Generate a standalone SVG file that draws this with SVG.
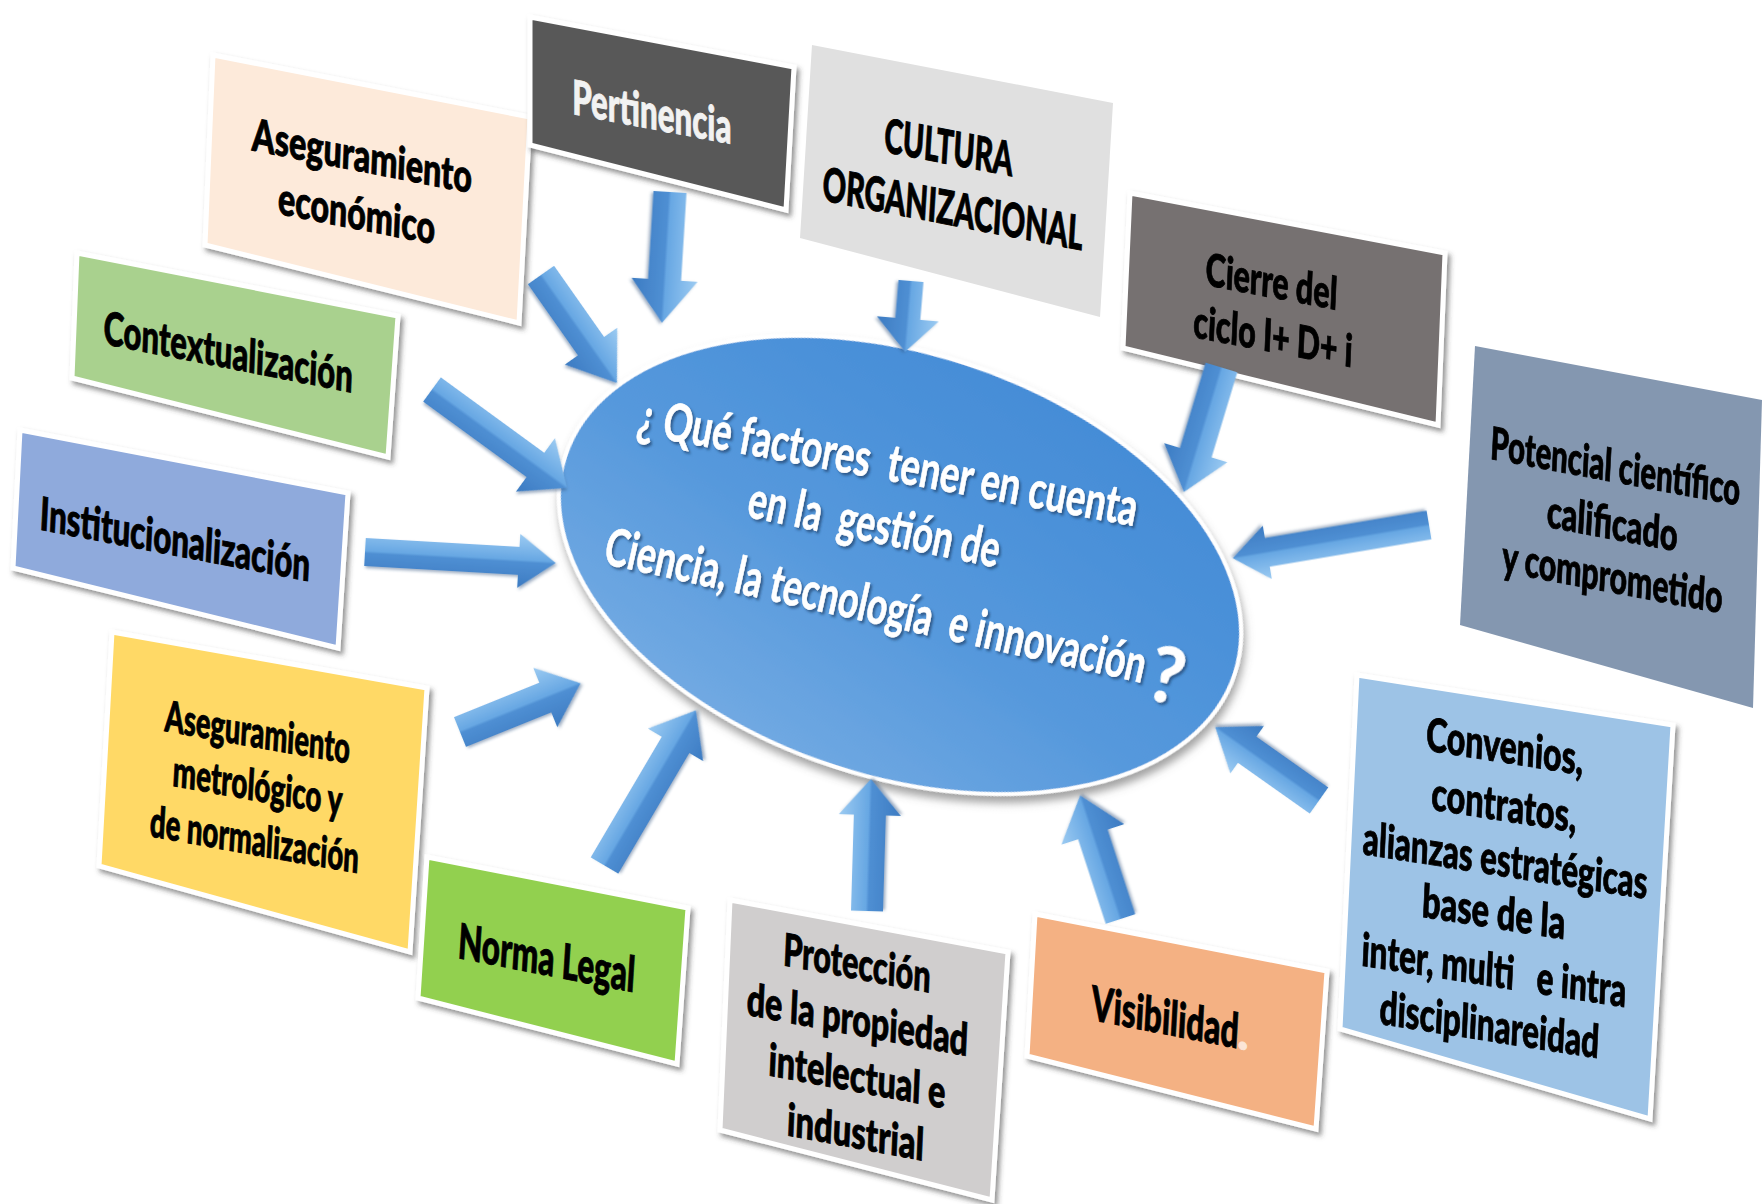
<svg xmlns="http://www.w3.org/2000/svg" width="1763" height="1204" viewBox="0 0 1763 1204">
<defs>
<style>
.t{font-family:Lato,"Open Sans","Liberation Sans",sans-serif;font-weight:900;fill:#000;stroke:#000;stroke-width:0.9px;text-anchor:middle}
.w{fill:#F2F2F2;stroke:#F2F2F2}
.et{font-family:Lato,"Open Sans","Liberation Sans",sans-serif;font-weight:700;fill:#FFFFFF;stroke:#FFFFFF;stroke-width:0.6px;text-anchor:middle;font-size:52px}
.box{stroke:#FFFFFF;stroke-width:5;stroke-linejoin:miter;filter:url(#sh)}
.flat{stroke:none}
.arr{fill:url(#ag);filter:url(#ash)}
</style>
<filter id="sh" x="-10%" y="-10%" width="130%" height="130%">
<feDropShadow dx="3" dy="4" stdDeviation="2.5" flood-color="#3a3a3a" flood-opacity="0.55"/>
</filter>
<filter id="ash" x="-20%" y="-40%" width="140%" height="180%">
<feDropShadow dx="1.5" dy="2" stdDeviation="1.5" flood-color="#2a4f7a" flood-opacity="0.45"/>
</filter>
<filter id="esh" x="-10%" y="-10%" width="125%" height="130%">
<feDropShadow dx="4" dy="6" stdDeviation="4" flood-color="#555555" flood-opacity="0.55"/>
</filter>
<filter id="tsh" x="-5%" y="-30%" width="110%" height="160%">
<feDropShadow dx="2" dy="2.5" stdDeviation="1.2" flood-color="#1d3e66" flood-opacity="0.65"/>
</filter>
<linearGradient id="ag" x1="0" y1="0" x2="0" y2="1">
<stop offset="0" stop-color="#9CCBF2"/>
<stop offset="0.48" stop-color="#67A7E3"/>
<stop offset="0.52" stop-color="#4F8FD3"/>
<stop offset="1" stop-color="#3C7BC2"/>
</linearGradient>
<linearGradient id="eg" x1="0.75" y1="0" x2="0.25" y2="1">
<stop offset="0" stop-color="#438BD6"/>
<stop offset="0.55" stop-color="#5598DC"/>
<stop offset="1" stop-color="#74ABE3"/>
</linearGradient>
</defs>
<rect width="1763" height="1204" fill="#FFFFFF"/>

<g id="centro">
<ellipse cx="0" cy="0" rx="352" ry="212" transform="translate(900,565) rotate(18)" fill="url(#eg)" stroke="#FFFFFF" stroke-width="4" filter="url(#esh)"/>
<g filter="url(#tsh)">
<text class="et" x="885" y="480" transform="rotate(10.5 885 480)" textLength="507" lengthAdjust="spacingAndGlyphs" xml:space="preserve">¿ Qué factores  tener en cuenta</text>
<text class="et" x="871" y="542" transform="rotate(11.5 871 542)" textLength="256" lengthAdjust="spacingAndGlyphs" xml:space="preserve">en la  gestión de</text>
<text class="et" x="872" y="623" transform="rotate(12.5 872 623)" textLength="553" lengthAdjust="spacingAndGlyphs" xml:space="preserve">Ciencia, la tecnología  e innovación</text>
<text class="et" x="1161" y="702" transform="rotate(12.5 1161 702)" style="font-size:76px">?</text>
</g>
</g>

<g id="aseguramiento-economico">
<polygon class="box" points="213,55 530,117 519,323 205,245" fill="#FDEADA"/>
<g transform="matrix(0.981 0.192 -0.042 0.999 213 55)" font-size="45">
<text class="t" x="155" y="87" textLength="224" lengthAdjust="spacingAndGlyphs">Aseguramiento</text>
<text class="t" x="152" y="145" textLength="160" lengthAdjust="spacingAndGlyphs">económico</text>
</g>
</g>

<g id="pertinencia">
<polygon class="box" points="530,17 794,67 786,210 530,145" fill="#595959"/>
<g transform="matrix(0.9825 0.186 0 1 530 17)" font-size="48">
<text class="t w" x="124" y="89" textLength="162" lengthAdjust="spacingAndGlyphs">Pertinencia</text>
</g>
</g>

<g id="cultura-organizacional">
<polygon class="flat" points="812,45 1113,103 1100,317 800,238" fill="#E0E0E0"/>
<g transform="matrix(0.982 0.189 -0.062 0.998 812 45)" font-size="47">
<text class="t" x="144" y="92" textLength="131" lengthAdjust="spacingAndGlyphs">CULTURA</text>
<text class="t" x="152" y="152" textLength="265" lengthAdjust="spacingAndGlyphs">ORGANIZACIONAL</text>
</g>
</g>

<g id="cierre-ciclo">
<polygon class="box" points="1130,193 1445,253 1438,425 1123,348" fill="#767171"/>
<g transform="matrix(0.9823 0.1871 -0.0451 0.999 1130 193)" font-size="45">
<text class="t" x="147" y="77" textLength="134" lengthAdjust="spacingAndGlyphs">Cierre del</text>
<text class="t" x="151" y="131" textLength="162" lengthAdjust="spacingAndGlyphs">ciclo I+ D+ i</text>
</g>
</g>

<g id="potencial-cientifico">
<polygon class="flat" points="1475,346 1762,400 1753,708 1460,625" fill="#8497B0"/>
<g transform="matrix(0.9829 0.1849 -0.0537 0.9986 1475 346)" font-size="45">
<text class="t" x="148" y="109" textLength="254" lengthAdjust="spacingAndGlyphs">Potencial científico</text>
<text class="t" x="148" y="166" textLength="133" lengthAdjust="spacingAndGlyphs">calificado</text>
<text class="t" x="151" y="219" textLength="224" lengthAdjust="spacingAndGlyphs">y comprometido</text>
</g>
</g>

<g id="contextualizacion">
<polygon class="box" points="77,253 398,316 388,457 72,378" fill="#A9D18E"/>
<g transform="matrix(0.9813 0.1926 -0.04 0.9992 77 253)" font-size="46">
<text class="t" x="157" y="85" textLength="254" lengthAdjust="spacingAndGlyphs">Contextualización</text>
</g>
</g>

<g id="institucionalizacion">
<polygon class="box" points="20,430 348,493 338,648 13,568" fill="#8FAADC"/>
<g transform="matrix(0.982 0.1886 -0.0507 0.9987 20 430)" font-size="46">
<text class="t" x="162" y="95" textLength="275" lengthAdjust="spacingAndGlyphs">Institucionalización</text>
</g>
</g>

<g id="aseguramiento-metrologico">
<polygon class="box" points="112,632 427,688 410,952 99,866" fill="#FFD966"/>
<g transform="matrix(0.9846 0.175 -0.0555 0.9985 112 632)" font-size="43">
<text class="t" x="152" y="89" textLength="188" lengthAdjust="spacingAndGlyphs">Aseguramiento</text>
<text class="t" x="155" y="142" textLength="172" lengthAdjust="spacingAndGlyphs">metrológico y</text>
<text class="t" x="155" y="196" textLength="212" lengthAdjust="spacingAndGlyphs">de normalización</text>
</g>
</g>

<g id="norma-legal">
<polygon class="box" points="427,857 688,908 677,1064 418,998" fill="#92D050"/>
<g transform="matrix(0.9815 0.1918 -0.0637 0.998 427 857)" font-size="49">
<text class="t" x="127" y="94" textLength="180" lengthAdjust="spacingAndGlyphs">Norma Legal</text>
</g>
</g>

<g id="proteccion">
<polygon class="box" points="730,900 1008,952 992,1200 720,1130" fill="#D0CECE"/>
<g transform="matrix(0.983 0.1839 -0.0438 0.999 730 900)" font-size="45">
<text class="t" x="131" y="55" textLength="150" lengthAdjust="spacingAndGlyphs">Protección</text>
<text class="t" x="134" y="111" textLength="225" lengthAdjust="spacingAndGlyphs">de la propiedad</text>
<text class="t" x="136" y="167" textLength="180" lengthAdjust="spacingAndGlyphs">intelectual e</text>
<text class="t" x="137" y="223" textLength="139" lengthAdjust="spacingAndGlyphs">industrial</text>
</g>
</g>

<g id="visibilidad">
<polygon class="box" points="1035,914 1327,971 1316,1129 1027,1056" fill="#F4B183"/>
<g transform="matrix(0.9815 0.1916 -0.0563 0.9984 1035 914)" font-size="48">
<text class="t" x="137" y="94" textLength="150" lengthAdjust="spacingAndGlyphs">Visibilidad</text>
<text class="t" x="217" y="94" style="fill:#FBE5D6;stroke:#FBE5D6">.</text>
</g>
</g>

<g id="convenios">
<polygon class="box" points="1357,675 1673,725 1650,1119 1340,1029" fill="#9DC3E6"/>
<g transform="matrix(0.9878 0.1563 -0.048 0.9989 1357 675)" font-size="46">
<text class="t" x="152" y="64" textLength="159" lengthAdjust="spacingAndGlyphs">Convenios,</text>
<text class="t" x="154" y="122" textLength="147" lengthAdjust="spacingAndGlyphs">contratos,</text>
<text class="t" x="158" y="177" textLength="288" lengthAdjust="spacingAndGlyphs">alianzas estratégicas</text>
<text class="t" x="149" y="230" textLength="145" lengthAdjust="spacingAndGlyphs">base de la</text>
<text class="t" x="152" y="288" textLength="268" lengthAdjust="spacingAndGlyphs" xml:space="preserve">inter, multi   e intra</text>
<text class="t" x="150" y="343" textLength="222" lengthAdjust="spacingAndGlyphs">disciplinareidad</text>
</g>
</g>

<g id="conectores">
<polygon class="arr" transform="translate(541,275) rotate(54.9)" points="0,-16 87,-16 87,-32 132,0 87,32 87,16 0,16"/>
<polygon class="arr" transform="translate(670,192) rotate(93.5)" points="0,-16.5 88,-16.5 88,-33 131,0 88,33 88,16.5 0,16.5"/>
<polygon class="arr" transform="translate(911,281) rotate(94.8)" points="0,-12.5 38,-12.5 38,-31 71,0 38,31 38,12.5 0,12.5"/>
<polygon class="arr" transform="translate(1221.5,367.5) rotate(106.8)" points="0,-16.5 89,-16.5 89,-33 130,0 89,33 89,16.5 0,16.5"/>
<polygon class="arr" transform="translate(1429,525) rotate(170.4)" points="0,-14.5 164,-14.5 164,-27 199,0 164,27 164,14.5 0,14.5"/>
<polygon class="arr" transform="translate(432,389.5) rotate(36.1)" points="0,-15 128,-15 128,-33 167,0 128,33 128,15 0,15"/>
<polygon class="arr" transform="translate(365,552) rotate(3.3)" points="0,-14 154,-14 154,-27 191,0 154,27 154,14 0,14"/>
<polygon class="arr" transform="translate(460,732) rotate(-22)" points="0,-16 92,-16 92,-32 130,0 92,32 92,16 0,16"/>
<polygon class="arr" transform="translate(604.5,865.5) rotate(-59.5)" points="0,-16 140,-16 140,-32 180,0 140,32 140,16 0,16"/>
<polygon class="arr" transform="translate(867,911) rotate(-88.3)" points="0,-16 96,-16 96,-31 132,0 96,31 96,16 0,16"/>
<polygon class="arr" transform="translate(1120.5,919) rotate(-108.1)" points="0,-15.5 89,-15.5 89,-33 130,0 89,33 89,15.5 0,15.5"/>
<polygon class="arr" transform="translate(1319,800.5) rotate(-144.75)" points="0,-16 88,-16 88,-29 127,0 88,29 88,16 0,16"/>
</g>
</svg>
